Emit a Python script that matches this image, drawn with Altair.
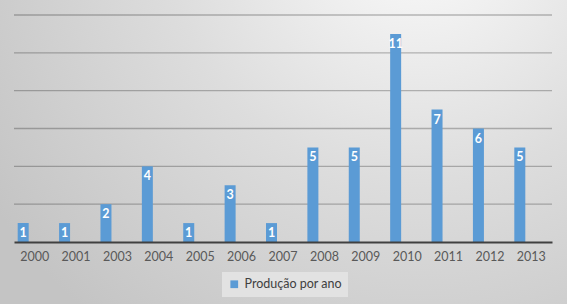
import altair as alt
import pandas as pd

years = ["2000", "2001", "2003", "2004", "2005", "2006", "2007",
         "2008", "2009", "2010", "2011", "2012", "2013"]
values = [1, 1, 2, 4, 1, 3, 1, 5, 5, 11, 7, 6, 5]
series = "Produção por ano"
grid_values = [2, 4, 6, 8, 10, 12]

df = pd.DataFrame({"ano": years, "valor": values, "serie": series})
grid_df = pd.DataFrame({"g": grid_values})

FONT = "Lato"
BLUE = "#5b9bd5"

x_enc = alt.X("ano:N", sort=years, scale=alt.Scale(paddingInner=0, paddingOuter=0),
              axis=alt.Axis(title=None, labelAngle=0, ticks=False, labelFont=FONT,
                            labelFontSize=12.5, labelColor="#595959", labelPadding=8,
                            domainColor="#404040", domainWidth=2, zindex=1))
y_scale = alt.Scale(domain=[0, 12], nice=False)

bg = alt.Chart(alt.Data(values=[{"a": 1}])).mark_rect(
    fill={"gradient": "radial",
          "x1": 0.74, "y1": 0.1, "r1": 0,
          "x2": 0.74, "y2": 0.1, "r2": 0.9,
          "stops": [{"offset": 0, "color": "#fcfcfc"},
                    {"offset": 0.5, "color": "#dddddd"},
                    {"offset": 1, "color": "#c4c4c4"}]},
    stroke=None
).encode(x=alt.value(-14), x2=alt.value(553), y=alt.value(-15), y2=alt.value(289))

grid = alt.Chart(grid_df).mark_rule(color="#000000", strokeOpacity=0.25, strokeWidth=1.3).encode(
    y=alt.Y("g:Q", scale=y_scale, axis=None),
    x=alt.value(0), x2=alt.value(538)
)

bars = alt.Chart(df).mark_bar(size=11, xOffset=-11.5).encode(
    x=x_enc,
    y=alt.Y("valor:Q", scale=y_scale, axis=None),
    color=alt.Color("serie:N", scale=alt.Scale(range=[BLUE]),
                    legend=alt.Legend(title=None, orient="none", legendX=208, legendY=257,
                                      symbolType="square", symbolSize=60,
                                      symbolStrokeWidth=0,
                                      labelFont=FONT, labelFontSize=12.5,
                                      labelColor="#404040", fillColor="#e2e2e2",
                                      padding=6))
)

labels = alt.Chart(df).mark_text(dx=-11.5, dy=10, color="white", fontWeight="bold",
                                 font=FONT, fontSize=12.5, baseline="middle").encode(
    x=alt.X("ano:N", sort=years),
    y=alt.Y("valor:Q", scale=y_scale, axis=None),
    text="valor:Q"
)

chart = alt.layer(bg, grid, bars, labels).properties(
    width=538, height=227,
    autosize=alt.AutoSizeParams(type="none"),
    padding={"left": 14, "top": 15, "right": 15, "bottom": 62},
    background="#d0d0d0"
).configure_view(stroke=None)

chart.save("out.html", embed_options={"renderer": "svg", "actions": False})
